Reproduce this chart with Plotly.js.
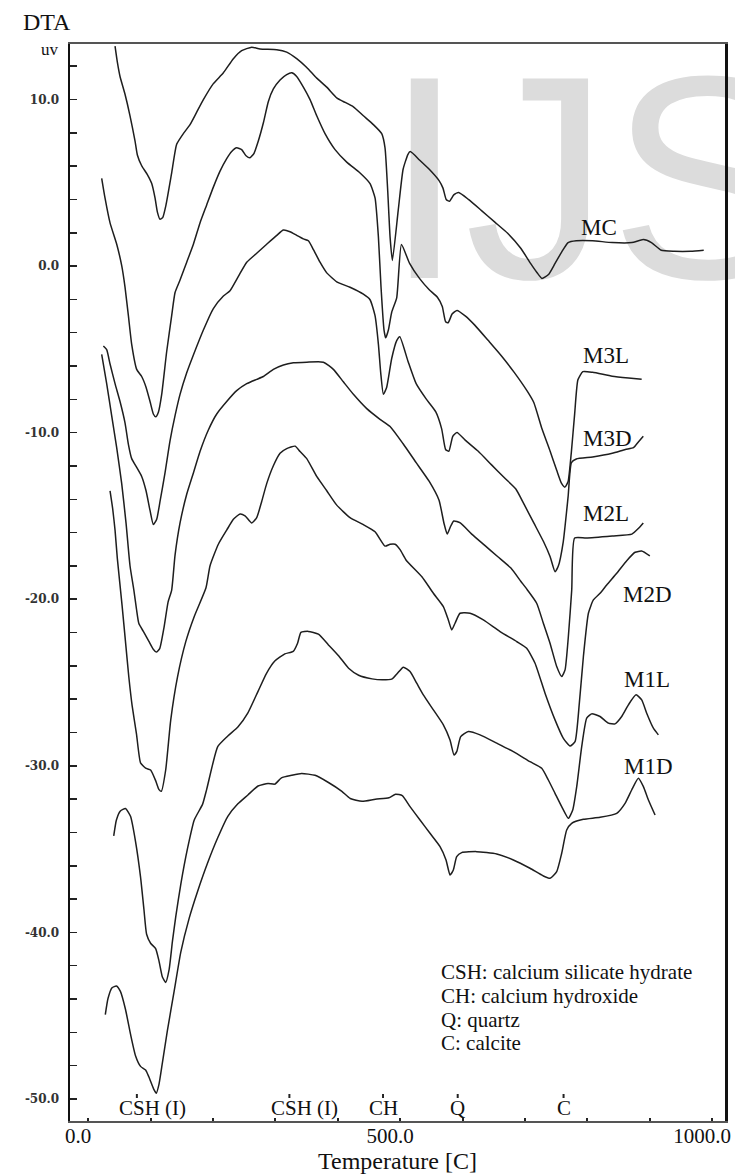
<!DOCTYPE html>
<html>
<head>
<meta charset="utf-8">
<script src="https://cdn.plot.ly/plotly-3.0.1.min.js"></script>
<style>html,body{margin:0;padding:0;background:#fff;}#chart{width:735px;height:1174px;}</style>
</head>
<body>
<div id="chart"></div>
<script>
// ---- Data (temperature in C, DTA signal in uV) ----
const mcT = [43.0,46.7,51.0,59.0,67.0,75.0,78.8,85.7,94.8,101.8,107.1,110.9,115.1,119.4,124.7,133.8,141.8,152.5,163.2,173.9,184.6,200.6,216.7,232.7,246.0,262.1,275.4,302.2,318.2,334.2,350.3,366.3,382.4,398.4,409.0,425.1,441.1,457.1,470.5,475.8,480.1,483.9,487.6,496.9,504.8,512.6,516.3,531.0,546.7,562.4,568.7,573.9,579.1,586.0,593.8,609.5,630.5,651.4,672.4,693.4,709.1,719.6,727.4,737.9,748.4,758.9,769.3,782.4,808.6,840.0,871.5,889.8,902.9,918.6,939.6,965.8,986.7];
const mcV = [13.20,12.24,11.38,10.31,9.02,7.52,6.67,6.02,5.49,4.95,4.09,3.24,2.81,2.91,3.67,5.59,7.31,7.95,8.49,9.24,9.99,10.95,11.60,12.45,12.93,13.14,13.03,12.99,12.84,12.45,11.92,11.28,10.74,10.10,9.88,9.56,9.02,8.49,7.95,7.10,4.52,1.74,0.34,3.33,5.81,6.71,6.87,6.37,5.81,5.13,4.68,4.00,3.89,4.27,4.41,4.00,3.33,2.65,1.97,1.07,0.16,-0.40,-0.74,-0.51,0.16,0.84,1.41,1.52,1.52,1.41,1.41,1.59,1.41,0.95,0.89,0.89,0.95];

const m3lT = [21.6,26.9,35.0,45.7,53.7,59.0,64.4,69.7,77.7,85.7,92.7,99.1,104.4,108.2,112.5,117.8,125.8,133.8,139.2,147.2,157.9,168.6,179.2,189.9,200.6,211.3,222.0,230.0,238.0,246.0,253.0,259.4,265.8,272.8,280.8,288.8,296.8,307.5,318.2,326.2,334.2,344.9,355.6,366.3,379.6,395.7,414.4,435.8,451.8,459.8,465.2,469.4,474.2,476.9,481.2,486.5,494.5,502.1,515.2,531.0,546.7,559.8,567.6,572.9,577.1,583.3,591.2,604.3,620.0,641.0,661.9,682.9,703.8,714.3,727.4,740.5,751.0,758.8,764.1,769.3,774.6,779.8,785.0,792.9,808.6,840.0,866.2,887.2];
const m3lV = [5.27,4.09,2.59,1.31,0.02,-1.27,-2.98,-4.70,-6.20,-6.63,-7.27,-8.13,-8.88,-9.05,-8.77,-7.70,-5.13,-2.98,-1.59,-0.84,0.23,1.31,2.59,3.67,4.74,5.70,6.45,6.88,7.10,6.99,6.62,6.50,6.77,7.52,8.60,9.88,10.63,11.17,11.49,11.60,11.38,10.74,9.99,9.02,7.95,6.99,6.24,5.59,4.95,4.09,1.74,-1.27,-3.84,-4.31,-3.84,-2.77,-1.91,1.29,0.16,-0.74,-1.42,-1.87,-2.43,-3.34,-3.40,-2.88,-2.66,-2.99,-3.56,-4.46,-5.37,-6.38,-7.51,-8.19,-9.77,-11.12,-12.26,-13.05,-13.27,-12.93,-11.12,-8.87,-6.83,-6.34,-6.38,-6.61,-6.72,-6.79];

const m3dT = [24.3,29.6,35.0,43.0,51.0,59.0,64.4,69.7,77.7,85.7,92.7,99.1,104.4,109.8,115.1,123.1,131.2,139.2,147.2,157.9,168.6,184.6,200.6,216.7,227.3,240.7,254.1,270.1,286.1,302.2,312.9,323.5,334.2,344.9,353.0,361.0,371.6,382.4,398.4,419.7,441.1,451.8,459.8,465.2,468.9,473.2,478.5,486.5,494.5,499.5,512.6,525.7,541.4,557.2,566.6,572.9,578.1,584.4,591.2,604.3,625.3,646.2,667.2,685.5,698.6,714.3,730.0,740.5,748.4,753.6,761.5,769.3,774.6,782.4,808.6,840.0,861.0,874.1,881.9,889.8];
const m3dV = [-4.80,-5.02,-5.88,-7.06,-8.13,-9.41,-10.70,-11.56,-12.09,-12.63,-13.49,-14.67,-15.52,-15.20,-14.13,-12.42,-10.48,-8.98,-7.70,-6.41,-5.34,-3.84,-2.55,-1.80,-1.48,-0.62,0.23,0.77,1.31,1.84,2.16,2.06,1.84,1.63,1.52,0.99,0.23,-0.41,-0.95,-1.27,-1.69,-2.02,-2.98,-4.70,-6.41,-7.70,-7.27,-5.55,-4.48,-4.24,-5.71,-7.06,-7.96,-8.75,-9.77,-11.01,-11.12,-10.22,-9.99,-10.45,-11.12,-11.92,-12.71,-13.38,-14.29,-15.42,-16.55,-17.45,-18.35,-18.01,-16.55,-13.84,-11.80,-11.58,-11.46,-11.24,-11.01,-10.90,-10.56,-10.22];

const m2lT = [21.6,29.6,37.6,45.7,53.7,60.6,67.0,73.1,77.4,81.2,89.3,97.3,104.3,109.2,114.6,121.6,128.0,133.8,139.2,147.2,157.9,168.6,179.2,192.6,206.0,222.0,238.0,254.1,270.1,280.8,296.8,312.9,328.9,350.3,377.0,393.0,409.0,425.1,446.5,467.8,483.9,504.8,525.7,546.7,562.4,570.2,575.5,580.7,586.0,596.4,614.8,635.7,656.7,677.6,693.4,703.8,718.9,729.6,740.3,751.0,759.0,764.4,769.7,775.1,779.8,798.2,840.0,871.5,882.0,889.8];
const m2lV = [-5.30,-7.06,-8.98,-10.91,-13.06,-15.42,-17.99,-19.44,-20.60,-21.46,-21.99,-22.53,-23.00,-23.17,-22.96,-21.67,-20.17,-19.45,-17.35,-15.42,-13.70,-12.42,-11.13,-9.84,-8.88,-8.13,-7.48,-7.06,-6.80,-6.63,-6.20,-5.94,-5.81,-5.77,-5.77,-6.20,-6.95,-7.70,-8.56,-9.20,-9.63,-10.67,-11.80,-12.93,-14.06,-15.42,-16.09,-15.64,-15.30,-15.42,-16.09,-16.77,-17.45,-18.13,-18.92,-19.43,-20.24,-21.44,-22.64,-24.04,-24.64,-24.24,-22.24,-19.44,-16.32,-16.32,-16.20,-16.09,-15.75,-15.42];

const m2dT = [35.0,39.2,43.0,46.7,54.3,59.7,65.1,70.4,77.4,83.9,92.0,100.0,108.1,113.5,117.2,124.2,132.3,143.1,156.5,170.0,188.8,195.3,208.6,222.0,232.7,243.4,251.4,262.1,270.1,278.1,286.1,296.8,307.5,318.2,331.6,339.6,350.3,366.3,382.4,398.4,419.7,441.1,459.8,475.8,483.9,491.9,499.9,510.0,534.6,553.3,569.3,577.3,582.7,588.0,596.0,612.1,633.4,660.2,686.9,702.9,716.3,732.3,748.3,761.7,772.4,780.4,787.3,793.8,801.8,809.8,820.5,831.2,847.2,863.6,876.7,887.2,900.3];
const m2dV = [-13.49,-14.56,-15.85,-17.56,-20.38,-22.53,-24.67,-26.39,-28.10,-29.82,-30.14,-30.25,-30.89,-31.43,-31.53,-30.25,-27.24,-24.67,-22.53,-21.03,-19.31,-17.99,-16.70,-15.85,-15.20,-14.88,-14.99,-15.42,-15.10,-14.13,-13.06,-11.99,-11.24,-10.96,-10.81,-11.13,-11.56,-12.63,-13.49,-14.35,-15.10,-15.52,-15.95,-16.81,-16.70,-16.70,-17.02,-17.67,-18.64,-19.64,-20.44,-21.24,-21.84,-21.44,-20.84,-20.84,-21.24,-21.94,-22.54,-22.94,-23.84,-25.64,-27.24,-28.35,-28.81,-28.55,-26.24,-23.44,-20.84,-20.04,-19.64,-19.14,-18.44,-17.67,-17.18,-17.11,-17.40];

const m1lT = [40.9,45.2,51.6,59.7,67.8,75.8,83.9,89.3,93.6,100.0,108.1,113.5,118.9,124.2,129.6,135.0,140.4,148.4,159.2,170.0,183.4,190.0,207.6,223.8,239.9,256.0,272.2,285.6,299.1,315.2,328.6,335.6,341.0,352.8,369.0,385.1,401.3,417.4,433.5,455.0,471.2,487.3,495.4,505.2,515.9,526.6,537.2,553.3,569.3,580.0,586.4,590.7,597.1,609.4,628.1,654.8,681.5,708.2,727.0,737.6,748.3,759.0,769.7,776.7,783.1,791.1,799.1,807.1,820.5,833.8,844.5,855.2,865.9,878.2,887.3,895.3,906.0,914.0];
const m1lV = [-34.21,-33.25,-32.71,-32.56,-33.03,-34.53,-36.68,-38.61,-40.11,-40.65,-40.97,-41.72,-42.68,-43.00,-42.25,-40.54,-39.04,-37.11,-34.96,-33.25,-32.30,-31.40,-28.85,-28.21,-27.67,-26.82,-25.53,-24.46,-23.71,-23.28,-23.13,-22.64,-21.99,-21.93,-22.10,-22.74,-23.39,-24.14,-24.56,-24.78,-24.84,-24.78,-24.46,-24.08,-24.34,-25.04,-25.74,-26.64,-27.54,-28.45,-29.35,-29.15,-28.25,-27.94,-28.14,-28.64,-29.15,-29.75,-30.15,-30.85,-31.65,-32.45,-33.15,-32.65,-31.25,-28.85,-27.14,-26.88,-27.04,-27.44,-27.48,-27.04,-26.34,-25.74,-26.04,-26.84,-27.74,-28.14];

const m1dT = [27.4,31.7,38.2,45.2,51.6,59.7,67.8,75.8,83.9,92.0,97.3,105.4,109.2,113.5,118.9,126.9,137.7,148.4,161.9,175.3,191.5,207.6,223.8,239.9,256.0,272.2,288.3,299.1,309.8,326.0,342.1,363.6,385.1,406.6,420.1,439.0,460.4,482.0,492.7,503.5,515.9,531.9,547.9,564.0,573.6,580.0,585.3,590.7,598.7,622.7,654.8,681.5,708.2,729.6,740.3,751.0,759.0,767.0,775.0,793.8,820.5,847.2,860.6,871.2,881.9,890.0,898.0,908.7];
const m1dV = [-44.93,-43.97,-43.32,-43.22,-43.54,-44.61,-46.11,-47.40,-48.04,-48.26,-48.68,-49.44,-49.65,-49.11,-47.83,-45.90,-43.54,-41.18,-39.14,-37.54,-35.82,-34.32,-33.03,-32.28,-31.75,-31.21,-31.06,-31.10,-30.72,-30.57,-30.46,-30.57,-31.00,-31.53,-31.96,-32.13,-32.00,-31.92,-31.70,-31.79,-32.45,-33.25,-34.05,-34.85,-35.65,-36.55,-36.25,-35.45,-35.21,-35.15,-35.29,-35.65,-36.15,-36.61,-36.75,-36.35,-35.25,-33.85,-33.45,-33.21,-33.09,-32.85,-32.25,-31.45,-30.75,-31.25,-32.05,-32.95];

const seriesNames = ['MC','M3L','M3D','M2L','M2D','M1L','M1D'];
const labelT = [818.9, 830.0, 831.7, 830.0, 896.0, 895.8, 898.5];
const labelV = [2.31, -5.37, -10.34, -14.85, -19.74, -24.84, -30.05];

const peakNames = ['CSH (I)','CSH (I)','CH','Q','C'];
const peakT = [78, 322.5, 472.6, 592.3, 762];

const keyLines = ['CSH: calcium silicate hydrate','CH: calcium hydroxide','Q: quartz','C: calcite'];

const yTickVals = [10, 0, -10, -20, -30, -40, -50];
const yTickText = ['10.0','0.0','-10.0','-20.0','-30.0','-40.0','-50.0'];

// ---- Build ----
const allT = [mcT, m3lT, m3dT, m2lT, m2dT, m1lT, m1dT];
const allV = [mcV, m3lV, m3dV, m2lV, m2dV, m1lV, m1dV];

const traces = seriesNames.map((n, i) => ({
  type: 'scatter', mode: 'lines', name: n,
  x: allT[i], y: allV[i],
  line: {color: '#1e1e1e', width: 1.5, shape: 'spline', smoothing: 0.5},
  hoverinfo: 'skip', showlegend: false
}));

const serif = 'Liberation Serif, Times New Roman, serif';
const annotations = [];
seriesNames.forEach((n, i) => annotations.push({
  x: labelT[i], y: labelV[i], xref: 'x', yref: 'y', text: n, showarrow: false,
  font: {family: serif, size: 23, color: '#111'}, xanchor: 'center', yanchor: 'middle'
}));

// paper mapping helpers (plot area 44..1121 px tall, 70..725 px wide)
const plotTop = 44, plotBottom = 1121, plotLeft = 70, plotRight = 725;
const py = px => (plotBottom - px) / (plotBottom - plotTop);
const pxp = px => (px - plotLeft) / (plotRight - plotLeft);

keyLines.forEach((t, i) => annotations.push({
  x: pxp(439), y: py(972 + i * 23.8), xref: 'paper', yref: 'paper', text: t, showarrow: false,
  font: {family: serif, size: 21, color: '#111'}, xanchor: 'left', yanchor: 'middle'
}));

const shapes = [];
peakNames.forEach((t, i) => {
  const csh = t.indexOf('(') > 0;
  annotations.push({
    x: peakT[i], y: py(1108), xref: 'x', yref: 'paper', text: t, showarrow: false,
    font: {family: serif, size: 21, color: '#111'},
    xanchor: csh ? 'left' : 'center', xshift: csh ? -20 : 0, yanchor: 'middle'
  });
  shapes.push({type: 'line', xref: 'x', yref: 'paper', x0: peakT[i], x1: peakT[i],
    y0: py(1098), y1: py(1094), line: {color: '#222', width: 2}});
});

annotations.push({x: pxp(47), y: py(22), xref: 'paper', yref: 'paper', text: 'DTA', showarrow: false,
  font: {family: serif, size: 24, color: '#111'}, xanchor: 'center', yanchor: 'middle'});
annotations.push({x: pxp(50), y: py(49), xref: 'paper', yref: 'paper', text: 'uv', showarrow: false,
  font: {family: serif, size: 17, color: '#111'}, xanchor: 'center', yanchor: 'middle'});

// watermark behind the curves
shapes.push({type: 'rect', xref: 'paper', yref: 'paper', layer: 'below',
  x0: pxp(381), x1: pxp(381) + 0.8, y0: py(150) - 0.1, y1: py(150) + 0.1,
  line: {width: 0}, fillcolor: 'rgba(0,0,0,0)',
  label: {text: 'IJS', textposition: 'middle left', padding: 0,
    font: {family: 'Liberation Sans, Arial, sans-serif', size: 290, color: '#dcdcdc'}}});

const layout = {
  width: 735, height: 1174,
  margin: {l: 70, r: 10, t: 44, b: 53, pad: 0},
  paper_bgcolor: '#fff', plot_bgcolor: '#fff',
  showlegend: false,
  xaxis: {
    range: [-29.2, 1020.8], showgrid: false, zeroline: false,
    showline: true, linecolor: '#555', linewidth: 2, mirror: true,
    tickmode: 'linear', tick0: 0, dtick: 500, tickformat: '.1f',
    ticks: 'inside', ticklen: 3, tickwidth: 2, tickcolor: '#222',
    minor: {tickmode: 'linear', tick0: 0, dtick: 100, ticks: 'inside', ticklen: 3, tickwidth: 2, tickcolor: '#222'},
    tickfont: {family: serif, size: 21, color: '#111'},
    ticklabelshift: -10, ticklabelstandoff: -5,
    title: {text: 'Temperature [C]', font: {family: serif, size: 24, color: '#111'}, standoff: 14}
  },
  yaxis: {
    range: [-51.32, 13.33], showgrid: false, zeroline: false,
    showline: true, linecolor: '#111', linewidth: 2.5, mirror: true,
    tickmode: 'array', tickvals: yTickVals, ticktext: yTickText,
    ticks: 'inside', ticklen: 7, tickwidth: 1.5, tickcolor: '#222',
    minor: {tickmode: 'linear', tick0: 0, dtick: 2, ticks: 'inside', ticklen: 7, tickwidth: 1.5, tickcolor: '#222'},
    tickfont: {family: 'DejaVu Serif, serif', size: 12, color: '#333', weight: 'bold'},
    ticklabelstandoff: 6
  },
  annotations: annotations,
  shapes: shapes
};

Plotly.newPlot('chart', traces, layout, {staticPlot: true, displayModeBar: false});
</script>
</body>
</html>
